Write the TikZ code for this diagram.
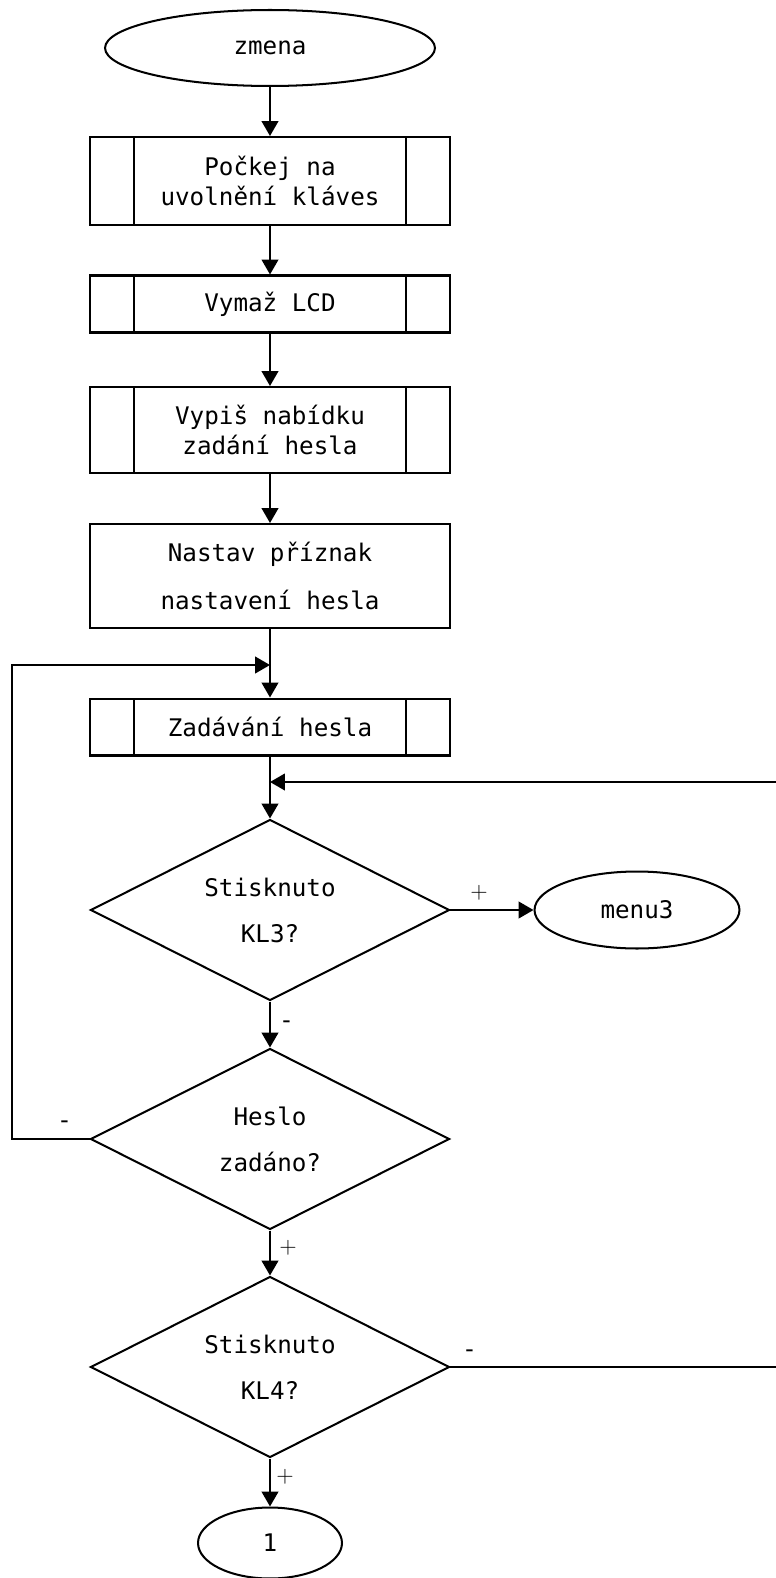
\documentclass[tikz,border=0pt]{standalone}
\usepackage{fontspec}
\newfontfamily\monofont{DejaVu Sans Mono}
\usetikzlibrary{shapes.geometric,arrows.meta}

\tikzset{
  base/.style={draw=black, line width=1.15pt, align=center, inner sep=0pt,
    font=\monofont\fontsize{13.8}{17.6}\selectfont},
  terminal/.style={base, ellipse},
  krok/.style={base, rectangle, minimum width=7.2cm},
  podprogram/.style={krok, path picture={
    \draw[line width=1.15pt] ([xshift=0.88cm]path picture bounding box.north west) -- ([xshift=0.88cm]path picture bounding box.south west);
    \draw[line width=1.15pt] ([xshift=-0.88cm]path picture bounding box.north east) -- ([xshift=-0.88cm]path picture bounding box.south east);}},
  rozhodnuti/.style={base, diamond, aspect=2, minimum width=7.18cm, minimum height=3.62cm,
    font=\monofont\fontsize{13.8}{26.2}\selectfont},
  spoj/.style={line width=1.15pt, -{Triangle[length=8.5pt,width=9.5pt]}},
  znak/.style={inner sep=0pt, font=\fontsize{13}{13}\selectfont},
  zapor/.style={inner sep=0pt, font=\bfseries\fontsize{12}{12}\selectfont}
}

\begin{document}
\begin{tikzpicture}[x=0.02cm, y=-0.02cm]
\useasboundingbox (0,0) rectangle (776,1578);

% hlavni vetev
\node (zmena) [terminal, minimum width=6.6cm, minimum height=1.52cm] at (270,48) {zmena};
\node (pockej) [podprogram, minimum height=1.76cm] at (270,181) {Počkej na\\uvolnění kláves};
\node (vymaz) [podprogram, minimum height=1.14cm] at (270,304) {Vymaž LCD};
\node (vypis) [podprogram, minimum height=1.72cm] at (270,430) {Vypiš nabídku\\zadání hesla};
\node (priznak) [krok, minimum height=2.08cm, font=\monofont\fontsize{13.8}{27.5}\selectfont] at (270,576) {Nastav příznak\\nastavení hesla};
\coordinate (sber1) at (270,665);
\node (zadavani) [podprogram, minimum height=1.14cm] at (270,727) {Zadávání hesla};
\coordinate (sber2) at (270,782);

% rozhodovani
\node (kl3) [rozhodnuti] at (270,910) {Stisknuto\\KL3?};
\node (menu3) [terminal, minimum width=4.1cm, minimum height=1.54cm] at (637,910) {menu3};
\node (heslo) [rozhodnuti] at (270,1139) {Heslo\\zadáno?};
\node (kl4) [rozhodnuti] at (270,1367) {Stisknuto\\KL4?};
\node (jedna) [terminal, minimum width=2.88cm, minimum height=1.42cm] at (270,1543) {1};

\coordinate (vlevo) at (12,665);
\coordinate (vpravo) at (778,782);

\draw [spoj] (zmena) -- (pockej);
\draw [spoj] (pockej) -- (vymaz);
\draw [spoj] (vymaz) -- (vypis);
\draw [spoj] (vypis) -- (priznak);
\draw [spoj] (priznak) -- (zadavani);
\draw [spoj] (zadavani) -- (kl3);
\draw [spoj] (kl3) -- (menu3);
\draw [spoj] (kl3) -- (heslo);
\draw [spoj] (heslo) -- (kl4);
\draw [spoj] (kl4) -- (jedna);
\draw [spoj] (heslo.west) -| (vlevo) -- (sber1);
\draw [spoj] (kl4.east) -| (vpravo) -- (sber2);

% popisky vetvi
\node (plus1) [znak] at (479,893) {+};
\node (minus1) [zapor] at (287,1024) {-};
\node (minus2) [zapor] at (65,1124) {-};
\node (plus2) [znak] at (288,1248) {+};
\node (minus3) [zapor] at (470,1353) {-};
\node (plus3) [znak] at (285,1477) {+};

\end{tikzpicture}
\end{document}
